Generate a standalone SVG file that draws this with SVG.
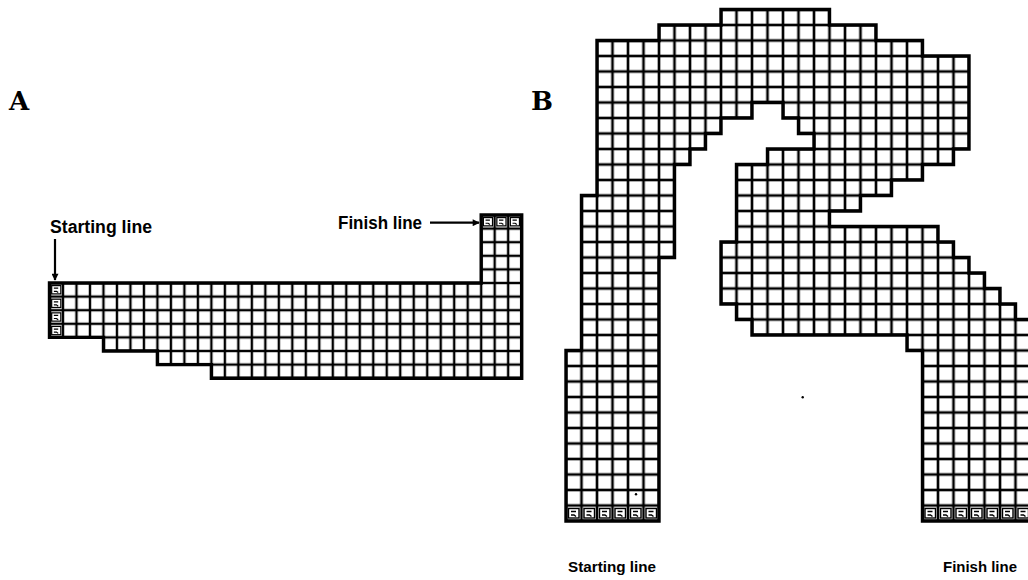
<svg xmlns="http://www.w3.org/2000/svg" width="1028" height="580" viewBox="0 0 1028 580">
  <style>
    .lbl { font-family: "Liberation Sans", Arial, sans-serif; font-weight: bold; fill: #000; }
    .pl { font-family: "DejaVu Serif", "Liberation Serif", serif; font-weight: bold; fill: #000; }
    .outline { stroke: #000; stroke-width: 3.4; stroke-linejoin: miter; }
    .mk { fill: none; stroke: #000; stroke-width: 1.4; }
  </style>
  <defs>
    <pattern id="gridA" patternUnits="userSpaceOnUse" x="49.5" y="215" width="13.49" height="13.6">
      <rect width="13.49" height="13.6" fill="#fff" stroke="#000" stroke-width="2.4"/>
    </pattern>
    <pattern id="gridB" patternUnits="userSpaceOnUse" x="566" y="9.5" width="15.5" height="15.5">
      <rect width="15.5" height="15.5" fill="#fff" stroke="#000" stroke-width="2.6"/>
    </pattern>
    <g id="mark">
      <rect class="mk" x="2.5" y="3" width="10.5" height="9.5"/>
      <path class="mk" d="M5,6 H10 M5,9.5 H8 L10,11"/>
    </g>
    <marker id="arr" viewBox="0 0 10 10" refX="9" refY="5" markerWidth="10" markerHeight="7" markerUnits="userSpaceOnUse" orient="auto">
      <path d="M0,0 L10,5 L0,10 Z" fill="#000"/>
    </marker>
  </defs>
  <rect width="1028" height="580" fill="#fff"/>

  <!-- Panel labels -->
  <text class="pl" x="9" y="110" font-size="26">A</text>
  <text class="pl" x="531" y="110" font-size="26">B</text>

  <!-- Track A -->
  <g id="trackA">
    <path class="outline" fill="url(#gridA)" d="M49.5,283 H481.2 V215 H521.7 V378.2 H211.4 V364.6 H157.4 V351 H103.5 V337.4 H49.5 Z"/>
    <g id="startA" transform="scale(0.87)">
      <use href="#mark" x="56.9" y="325.3"/>
      <use href="#mark" x="56.9" y="340.9"/>
      <use href="#mark" x="56.9" y="356.6"/>
      <use href="#mark" x="56.9" y="372.2"/>
    </g>
    <g id="finishA" transform="scale(0.87)">
      <use href="#mark" x="553.1" y="247.1"/>
      <use href="#mark" x="568.6" y="247.1"/>
      <use href="#mark" x="584.1" y="247.1"/>
    </g>
  </g>

  <!-- Track B -->
  <g id="trackB">
    <path class="outline" fill="url(#gridB)" d="M721,9.5 H829.5 V25 H876 V40.5 H922.5 V56 H969 V149 H953.5 V164.5 H922.5 V180 H891.5 V195.5 H860.5 V211 H829.5 V226.5 H938 V242 H953.5 V257.5 H969 V273 H984.5 V288.5 H1000 V304 H1015.5 V319.5 H1031 V521 H922.5 V350.5 H907 V335 H752 V319.5 H736.5 V304 H721 V242 H736.5 V164.5 H767.5 V149 H814 V133.5 H798.5 V118 H783 V102.5 H752 V118 H721 V133.5 H705.5 V149 H690 V164.5 H674.5 V257.5 H659 V521 H566 V350.5 H581.5 V195.5 H597 V40.5 H659 V25 H721 Z"/>
    <g id="startB">
      <use href="#mark" x="566" y="505.5"/>
      <use href="#mark" x="581.5" y="505.5"/>
      <use href="#mark" x="597" y="505.5"/>
      <use href="#mark" x="612.5" y="505.5"/>
      <use href="#mark" x="628" y="505.5"/>
      <use href="#mark" x="643.5" y="505.5"/>
    </g>
    <g id="finishB">
      <use href="#mark" x="922.5" y="505.5"/>
      <use href="#mark" x="938" y="505.5"/>
      <use href="#mark" x="953.5" y="505.5"/>
      <use href="#mark" x="969" y="505.5"/>
      <use href="#mark" x="984.5" y="505.5"/>
      <use href="#mark" x="1000" y="505.5"/>
      <use href="#mark" x="1015.5" y="505.5"/>
    </g>
    <circle cx="636" cy="494.3" r="1.2" fill="#000"/>
    <circle cx="802.7" cy="397.3" r="1.2" fill="#000"/>
  </g>

  <!-- Connectors (label arrows) -->
  <g id="connectors" stroke="#000" stroke-width="2.2" fill="none">
    <line x1="55" y1="239" x2="55" y2="280" marker-end="url(#arr)"/>
    <line x1="430" y1="222.7" x2="479" y2="222.7" marker-end="url(#arr)"/>
  </g>

  <!-- Labels -->
  <g id="labels">
    <text class="lbl" x="50" y="233" font-size="17.5" textLength="102" lengthAdjust="spacingAndGlyphs">Starting line</text>
    <text class="lbl" x="338" y="229" font-size="17.5" textLength="84" lengthAdjust="spacingAndGlyphs">Finish line</text>
    <text class="lbl" x="568" y="572" font-size="15.3" textLength="88" lengthAdjust="spacingAndGlyphs">Starting line</text>
    <text class="lbl" x="943" y="572" font-size="15" textLength="74" lengthAdjust="spacingAndGlyphs">Finish line</text>
  </g>
</svg>
